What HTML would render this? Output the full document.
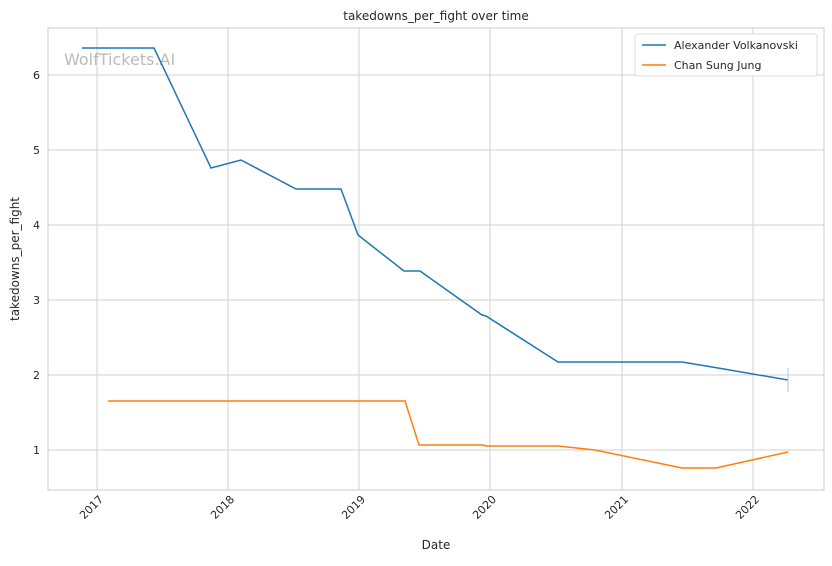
<!DOCTYPE html>
<html><head><meta charset="utf-8"><style>
body{margin:0;background:#fff;}
svg text{font-family:"DejaVu Sans","Liberation Sans",sans-serif;fill:#262626;}
</style></head><body>
<svg width="832" height="561" xmlns="http://www.w3.org/2000/svg">
<rect width="832" height="561" fill="#fff"/>
<g stroke="#d0d0d0" stroke-width="1">
<line x1="97" y1="28" x2="97" y2="490"/><line x1="228" y1="28" x2="228" y2="490"/>
<line x1="359" y1="28" x2="359" y2="490"/><line x1="490" y1="28" x2="490" y2="490"/>
<line x1="622" y1="28" x2="622" y2="490"/><line x1="753" y1="28" x2="753" y2="490"/>
<line x1="48" y1="75" x2="824" y2="75"/><line x1="48" y1="150" x2="824" y2="150"/>
<line x1="48" y1="225" x2="824" y2="225"/><line x1="48" y1="300" x2="824" y2="300"/>
<line x1="48" y1="375" x2="824" y2="375"/><line x1="48" y1="450" x2="824" y2="450"/>
</g>
<rect x="48" y="28" width="776" height="462" fill="none" stroke="#ccc" stroke-width="1"/>
<text x="64" y="65" font-size="16" style="fill:#bbb">WolfTickets.AI</text>
<polyline fill="none" stroke="#1f77b4" stroke-width="1.5" points="82,48 154,48 211,168 241,160 296,189 341,189 358,235 404,271 420,271 482,315 486,316 558,362 682,362 718,368 788,380"/>
<line x1="788" y1="368" x2="788" y2="392" stroke="#a8c8e0" stroke-width="1"/>
<polyline fill="none" stroke="#ff7f0e" stroke-width="1.5" points="108,401 405,401 419,445 483,445 486,446 558,446 595,450 682,468 716,468 788,452"/>
<g font-size="11" text-anchor="end">
<text x="40" y="79">6</text><text x="40" y="154">5</text><text x="40" y="229">4</text>
<text x="40" y="304">3</text><text x="40" y="379">2</text><text x="40" y="454">1</text>
</g>
<g font-size="11" text-anchor="end">
<text transform="translate(104,500) rotate(-45)">2017</text>
<text transform="translate(235,500) rotate(-45)">2018</text>
<text transform="translate(366,500) rotate(-45)">2019</text>
<text transform="translate(497,500) rotate(-45)">2020</text>
<text transform="translate(629,500) rotate(-45)">2021</text>
<text transform="translate(760,500) rotate(-45)">2022</text>
</g>
<text x="436" y="549" font-size="12" text-anchor="middle">Date</text>
<text transform="translate(19,259) rotate(-90)" font-size="12" text-anchor="middle">takedowns_per_fight</text>
<text x="436" y="20" font-size="12" text-anchor="middle">takedowns_per_fight over time</text>
<rect x="635" y="34" width="182" height="42" fill="#fff" stroke="#ddd" rx="3"/>
<line x1="642" y1="45" x2="666" y2="45" stroke="#1f77b4" stroke-width="1.5"/>
<line x1="642" y1="65" x2="666" y2="65" stroke="#ff7f0e" stroke-width="1.5"/>
<text x="674" y="49" font-size="11">Alexander Volkanovski</text>
<text x="674" y="69" font-size="11">Chan Sung Jung</text>
</svg>
</body></html>
